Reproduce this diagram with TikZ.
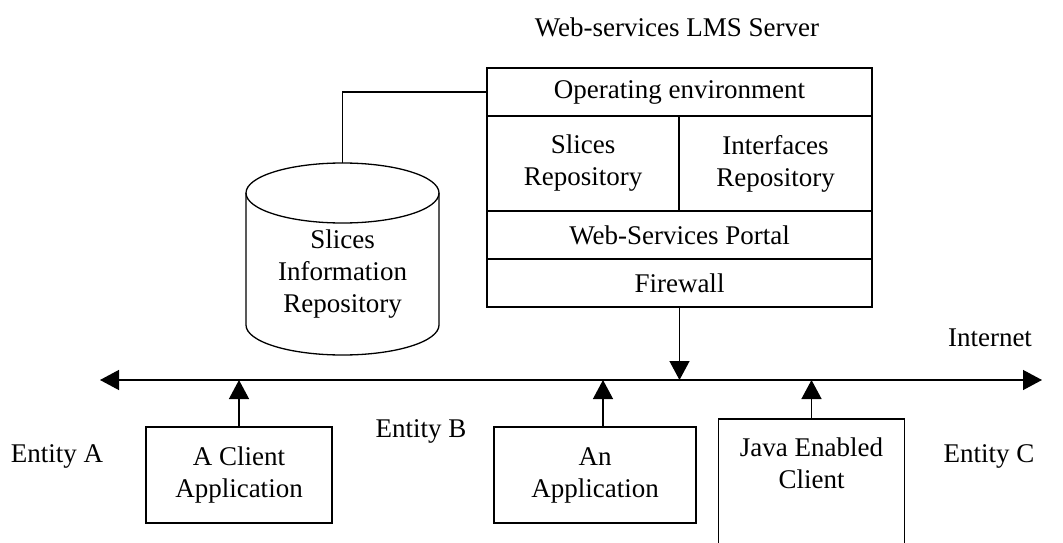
\documentclass[tikz,border=0pt]{standalone}
\usepackage{fontspec}
\setmainfont{Liberation Serif}
\usetikzlibrary{arrows.meta}

\tikzset{
  box/.style={draw, line width=1.3pt, rectangle, inner sep=0pt, align=center},
  netarrow/.style={line width=1.3pt, -{Triangle[length=19pt,width=20pt]}},
}

\begin{document}
\begin{tikzpicture}[x=1pt, y=1pt, font=\fontsize{27}{32}\selectfont]
  \useasboundingbox (0,0) rectangle (1063,-543);

  % server
  \node (title) at (677,-27) {Web-services LMS Server};
  \node[box, minimum width=385, minimum height=48] (os) at (679.5,-92) {Operating environment};
  \node[box, minimum width=192, minimum height=95] (slices) at (583,-163.5) {Slices\\Repository};
  \node[box, minimum width=193, minimum height=95] (ifaces) at (775.5,-163.5) {Interfaces\\Repository};
  \node[box, minimum width=385, minimum height=48] (portal) at (679.5,-235) {Web-Services Portal};
  \node[box, minimum width=385, minimum height=48] (fw) at (679.5,-283) {Firewall};

  % database
  \coordinate (dbtop) at (342.5,-163);
  \draw[line width=1.3pt] (342.5,-193) ellipse [x radius=96.5, y radius=30];
  \draw[line width=1.3pt] (246,-193) -- (246,-325)
    arc [start angle=180, end angle=360, x radius=96.5, y radius=30] -- (439,-193);
  \node[align=center] (db) at (342.5,-274) {Slices\\Information\\Repository};
  \draw[line width=1.3pt] (os.west) -| (dbtop);

  % internet
  \coordinate (netL) at (100,-380);
  \coordinate (netR) at (1042,-380);
  \coordinate (netM) at (679,-380);
  \path (netM) edge[netarrow] (netL) edge[netarrow] (netR);
  \node (inet) at (990,-338) {Internet};
  \path (fw.south) edge[netarrow] (fw.south |- netL);

  % clients
  \node[box, minimum width=186, minimum height=96] (cA) at (239,-475) {A Client\\Application};
  \node[box, minimum width=202, minimum height=96] (cB) at (595,-475) {An\\Application};
  \node[minimum width=185, minimum height=88, inner sep=0pt, align=center, anchor=north] (cC) at (811.5,-419) {Java Enabled\\Client};
  \draw[line width=1.3pt] ([yshift=-60pt]cC.south west) -- (cC.north west)
    -- (cC.north east) -- ([yshift=-60pt]cC.south east);

  \path (cA.north) edge[netarrow] (cA.north |- netL);
  \path ([xshift=8pt]cB.north) edge[netarrow] ([xshift=8pt]cB.north |- netL);
  \path (cC.north) edge[netarrow] (cC.north |- netL);

  \node (eA) at (57,-456) {Entity A};
  \node (eB) at (421,-431) {Entity B};
  \node (eC) at (989,-456) {Entity C};
\end{tikzpicture}
\end{document}
